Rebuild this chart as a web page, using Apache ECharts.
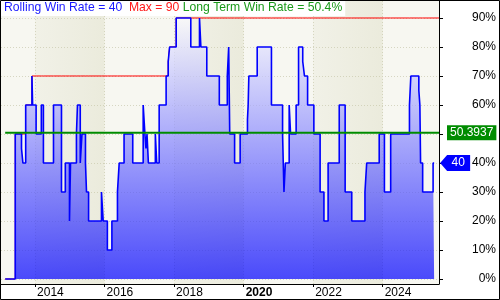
<!DOCTYPE html>
<html>
<head>
<meta charset="utf-8">
<script src="https://cdn.jsdelivr.net/npm/echarts@6/dist/echarts.min.js"></script>
<style>
html,body{margin:0;padding:0;background:#fff;}
#chart{width:500px;height:300px;}
</style>
</head>
<body>
<div id="chart"></div>
<script>
// ---- data (decimal years, step changes) ----
const dates = [2013.14, 2013.43, 2013.61, 2013.65, 2013.73, 2013.91, 2013.93, 2014.03, 2014.18, 2014.24,
  2014.53, 2014.76, 2014.87, 2014.99, 2015.02, 2015.19, 2015.22, 2015.30, 2015.35, 2015.45,
  2015.48, 2015.54, 2015.91, 2015.96, 2016.08, 2016.21, 2016.37, 2016.42, 2016.56, 2016.81,
  2017.11, 2017.16, 2017.19, 2017.22, 2017.26, 2017.46, 2017.50, 2017.57, 2017.77, 2017.83,
  2017.87, 2018.06, 2018.48, 2018.73, 2018.77, 2018.94, 2019.30, 2019.53, 2019.57, 2019.60,
  2019.74, 2019.90, 2020.11, 2020.13, 2020.15, 2020.39, 2020.80, 2021.12, 2021.16, 2021.20,
  2021.31, 2021.35, 2021.51, 2021.58, 2021.70, 2021.75, 2021.84, 2022.02, 2022.20, 2022.31,
  2022.43, 2022.75, 2022.92, 2023.11, 2023.49, 2023.54, 2023.90, 2024.05, 2024.23, 2024.77,
  2024.81, 2025.04, 2025.07, 2025.09, 2025.15, 2025.45, 2025.48];
const winRate = [0, 50, 45, 40, 60, 70, 60, 50, 60, 40,
  60, 30, 40, 20, 40, 50, 60, 40, 50, 40,
  30, 20, 30, 20, 10, 20, 30, 40, 50, 40,
  60, 50, 45, 50, 40, 50, 40, 60, 70, 75,
  80, 90, 80, 90, 80, 70, 60, 70, 80, 50,
  40, 50, 55, 60, 70, 80, 60, 50, 30, 40,
  60, 50, 60, 80, 75, 70, 60, 50, 30, 20,
  40, 60, 30, 20, 30, 40, 50, 30, 50, 60,
  70, 65, 60, 40, 30, 40, 40];
const longTermRate = 50.3937;
const longTermLabel = '50.4%';
const yTickValues = [0, 10, 20, 30, 40, 50, 60, 70, 80, 90];
const xTickYears = [2014, 2016, 2018, 2020, 2022, 2024];
const boldYear = 2020;
const bandYears = [[2014, 2016], [2018, 2020], [2022, 2024]];
const xMin = 2013.02, xMax = 2025.62;

// ---- derived ----
const ratePts = dates.map((d, i) => [d, winRate[i]]);
let runMax = -Infinity;
const maxPts = dates.map((d, i) => { runMax = Math.max(runMax, winRate[i]); return [d, runMax]; });
maxPts.push([xMax, runMax]);
const lastRate = winRate[winRate.length - 1];
const lastDate = dates[dates.length - 1];
const maxRate = Math.max(...winRate);
const ltPts = [[dates[0], longTermRate], [xMax, longTermRate]];

const FONT = "'Liberation Sans', Arial, sans-serif";
const chart = echarts.init(document.getElementById('chart'), null, {renderer: 'canvas'});
const option = {
  animation: false,
  backgroundColor: '#ffffff',
  title: {
    left: 1, top: 0, padding: [1, 3, 1, 3],
    backgroundColor: '#ffffff',
    text: '{a|Rolling Win Rate = ' + lastRate + '}  {b|Max = ' + maxRate + '} {c|Long Term Win Rate = ' + longTermLabel + '}',
    textStyle: {
      fontFamily: FONT, fontSize: 12, fontWeight: 'normal', lineHeight: 14,
      rich: {
        a: {color: '#1a1aff', fontFamily: FONT, fontSize: 12.2},
        b: {color: '#ff1a1a', fontFamily: FONT, fontSize: 12.2},
        c: {color: '#1a9a1a', fontFamily: FONT, fontSize: 12.2}
      }
    }
  },
  grid: {
    left: 1, right: 61, top: 1, bottom: 16,
    show: true, backgroundColor: '#f7f7f1', borderWidth: 0
  },
  xAxis: {
    type: 'value', min: xMin, max: xMax,
    axisLine: {show: true, onZero: false, lineStyle: {color: '#000', width: 1}},
    axisTick: {show: true, inside: false, length: 3, customValues: xTickYears, lineStyle: {color: '#000'}},
    axisLabel: {
      customValues: xTickYears, align: 'left', margin: 3, padding: [0, 0, 0, 2],
      fontFamily: FONT, fontSize: 12, color: '#000',
      formatter: v => v === boldYear ? '{b|' + v + '}' : '' + v,
      rich: {b: {fontWeight: 'bold', fontFamily: FONT, fontSize: 12, color: '#000'}}
    },
    splitLine: {show: true, lineStyle: {color: '#d6d6c2', type: [1, 2], width: 1}}
  },
  yAxis: {
    type: 'value', position: 'right', min: -1.72, max: 95.86,
    axisLine: {show: true, lineStyle: {color: '#000', width: 1}},
    axisTick: {show: true, inside: false, length: 4, customValues: yTickValues, lineStyle: {color: '#000'}},
    axisLabel: {
      customValues: yTickValues, align: 'right', margin: 57,
      fontFamily: FONT, fontSize: 12, color: '#000', formatter: '{value}%'
    },
    splitLine: {show: true, lineStyle: {color: '#d6d6c2', type: [1, 2], width: 1}}
  },
  series: [
    {
      name: 'Max', type: 'line', step: 'end', data: maxPts, z: 1,
      showSymbol: false, symbol: 'none',
      lineStyle: {color: '#ff0000', width: 1},
      markArea: {
        silent: true,
        itemStyle: {
          color: new echarts.graphic.LinearGradient(0, 0, 1, 0, [
            {offset: 0, color: 'rgba(205,205,170,0.14)'},
            {offset: 1, color: 'rgba(200,200,160,0.26)'}
          ])
        },
        data: bandYears.map(b => [{xAxis: b[0]}, {xAxis: b[1]}])
      }
    },
    {
      name: 'Rolling Win Rate', type: 'line', step: 'end', data: ratePts, z: 2,
      showSymbol: false, symbol: 'none', clip: false,
      lineStyle: {color: '#0000ff', width: 1.6},
      areaStyle: {
        origin: 0,
        color: new echarts.graphic.LinearGradient(0, 0, 0, 1, [
          {offset: 0, color: '#fbfbff'},
          {offset: 1, color: '#0000ff'}
        ])
      },
      markPoint: {
        silent: true,
        symbol: 'path://M0,8 L7,0 L30,0 L30,16 L7,16 Z',
        symbolSize: [30, 16],
        symbolKeepAspect: false,
        symbolOffset: [21, 0],
        itemStyle: {color: '#0000ff'},
        label: {show: true, color: '#fff', fontFamily: FONT, fontSize: 12, offset: [3, 0], formatter: '' + lastRate},
        data: [{coord: [lastDate, lastRate]}]
      }
    },
    {
      name: 'Long Term Win Rate', type: 'line', data: ltPts, z: 3,
      showSymbol: false, symbol: 'none', clip: false,
      lineStyle: {color: '#008c00', width: 2},
      endLabel: {
        show: true, formatter: '' + longTermRate, distance: 8,
        backgroundColor: '#008c00', color: '#ffffff', padding: [2, 3, 1, 3],
        fontFamily: FONT, fontSize: 12
      }
    }
  ],
  graphic: [
    {type: 'rect', shape: {x: 0.5, y: 0.5, width: 499, height: 299}, style: {fill: 'none', stroke: '#000', lineWidth: 1}, z: 100, silent: true}
  ]
};
chart.setOption(option);
</script>
</body>
</html>
